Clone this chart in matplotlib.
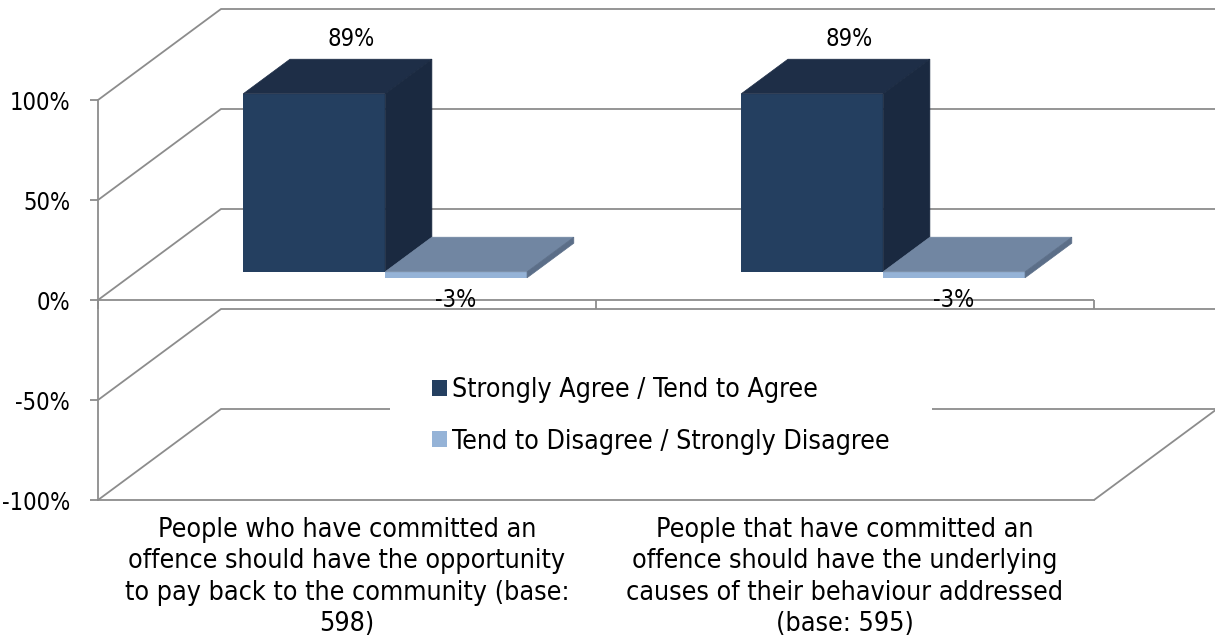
import matplotlib
matplotlib.use('Agg')
import matplotlib.pyplot as plt
from matplotlib.patches import Polygon
from matplotlib.ticker import FuncFormatter

categories = [
    'People who have committed an\noffence should have the opportunity\nto pay back to the community (base:\n598)',
    'People that have committed an\noffence should have the underlying\ncauses of their behaviour addressed\n(base: 595)',
]
series = ['Strongly Agree / Tend to Agree', 'Tend to Disagree / Strongly Disagree']
agree = [89, 89]
disagree = [-3, -3]
yticks = [-100, -50, 0, 50, 100]

# front, top and side shades for each series
shades = [('#243f60', '#1e2e47', '#1a2940'),
          ('#95b3d7', '#7186a2', '#5b6e88')]

DX, DY = 0.247, 45.5          # depth of the box, in data units
D0, D1 = 0.31, 0.69           # where the bars sit inside that depth
W = 0.285                     # bar width
GREY = '#8c8c8c'

plt.rcParams['font.family'] = 'DejaVu Sans'
plt.rcParams['font.stretch'] = 'condensed'

fig = plt.figure(figsize=(12.15, 6.41), dpi=100)
ax = fig.add_axes([98 / 1215, 141 / 641, 996 / 1215, 400 / 641])
ax.set_xlim(0, 2)
ax.set_ylim(-100, 100)

# walls: left side diagonals + back gridlines
line = dict(color=GREY, lw=1.3, clip_on=False, zorder=1, solid_capstyle='butt')
for v in yticks:
    ax.plot([0, DX, 2 + DX], [v, v + DY, v + DY], **line)
ax.plot([2, 2 + DX], [-100, -100 + DY], **line)
# category axis at zero with its tick marks
ax.plot([0, 2], [0, 0], **line)
for x in range(3):
    ax.plot([x, x], [0, -4.5], **line)

for s in ['top', 'right']:
    ax.spines[s].set_visible(False)
for s in ['left', 'bottom']:
    ax.spines[s].set_color(GREY)
    ax.spines[s].set_linewidth(1.3)

ax.set_yticks(yticks)
ax.yaxis.set_major_formatter(FuncFormatter(lambda v, p: '%d%%' % v))
ax.tick_params(axis='y', length=6, width=1.3, color=GREY, pad=14, labelsize=17)
ax.set_xticks([0.5, 1.5])
ax.set_xticklabels(categories, fontsize=19.3, linespacing=1.28)
ax.tick_params(axis='x', length=0, pad=12)

d = D1 - D0
handles = []
for i, vals in enumerate([agree, disagree]):
    front, top, side = shades[i]
    xs = [c + 0.5 + (i - 0.5) * W + D0 * DX for c in range(len(vals))]
    bars = ax.bar(xs, vals, W, bottom=D0 * DY, color=front, zorder=3,
                  label=series[i], linewidth=0, clip_on=False)
    handles.append(bars)
    for b, v in zip(bars, vals):
        x0 = b.get_x()
        x1 = x0 + b.get_width()
        lo = min(b.get_y(), b.get_y() + b.get_height())
        hi = max(b.get_y(), b.get_y() + b.get_height())
        ax.add_patch(Polygon([(x0, hi), (x1, hi), (x1 + d * DX, hi + d * DY),
                              (x0 + d * DX, hi + d * DY)], clip_on=False,
                             facecolor=top, edgecolor=top, lw=0.5, zorder=3))
        ax.add_patch(Polygon([(x1, lo), (x1, hi), (x1 + d * DX, hi + d * DY),
                              (x1 + d * DX, lo + d * DY)], clip_on=False,
                             facecolor=side, edgecolor=side, lw=0.5, zorder=3))
        xc = x0 + W / 2
        if v >= 0:
            ax.text(xc + 0.3 * DX, v + 0.6 * DY + 14, '%d%%' % v, clip_on=False,
                    ha='center', va='center', fontsize=17, zorder=4)
        else:
            ax.text(xc, D0 * DY + v - 11, '%d%%' % v, clip_on=False,
                    ha='center', va='center', fontsize=17, zorder=4)

leg = ax.legend(handles=handles, loc='center', bbox_to_anchor=(661 / 1215, 1 - 416 / 641),
                bbox_transform=fig.transFigure, fontsize=19.2, frameon=True,
                fancybox=False, framealpha=1, borderpad=1.6,
                handlelength=0.55, handleheight=0.55, handletextpad=0.2,
                labelspacing=0.95)
leg.get_frame().set_facecolor('white')
leg.get_frame().set_edgecolor('none')
leg.set_zorder(5)

fig.savefig('out.png', dpi=100)
